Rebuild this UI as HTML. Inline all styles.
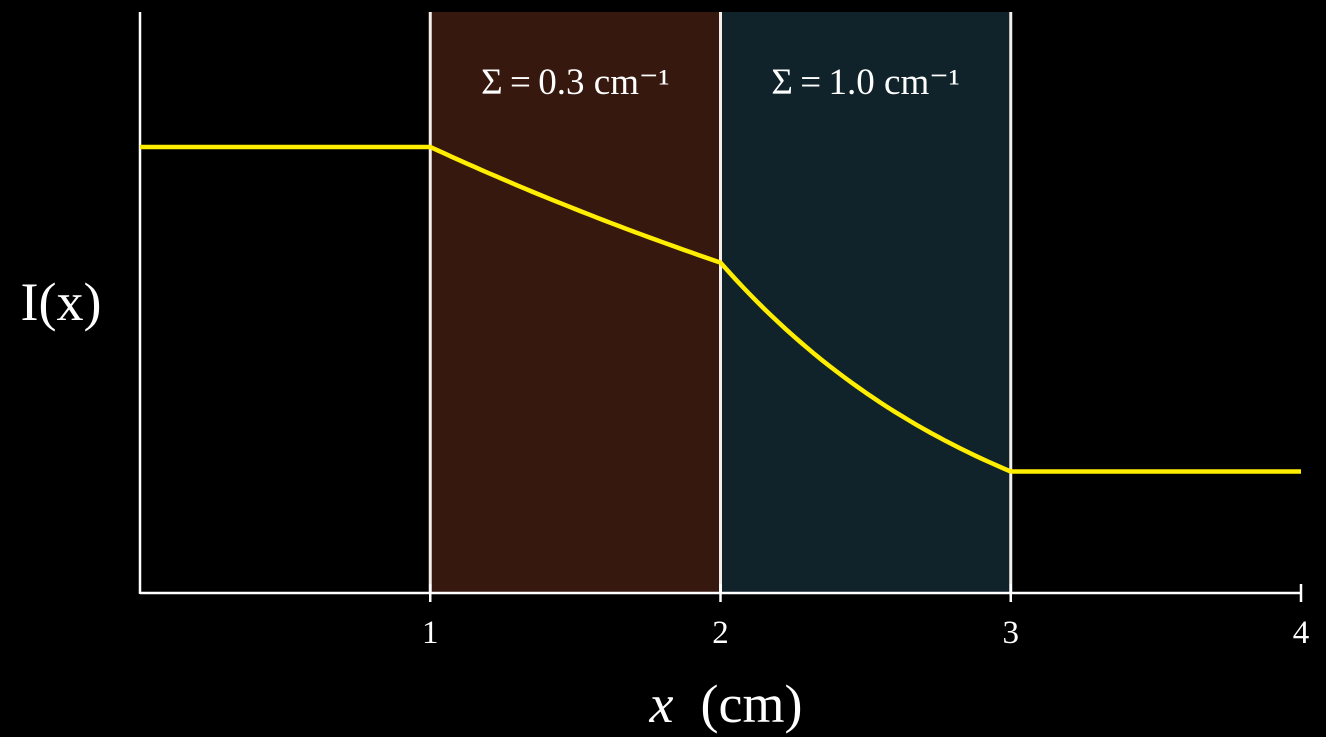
<!DOCTYPE html>
<html><head><meta charset="utf-8"><style>
html,body{margin:0;padding:0;background:#000;width:1326px;height:737px;overflow:hidden}
svg{display:block}
text{font-family:"Liberation Serif",serif;fill:#fff}
</style></head><body>
<svg id="chart" width="1326" height="737" viewBox="0 0 1326 737">
<g id="regions"></g>
<g id="axes"></g>
<g id="curve"></g>
<g id="labels"></g>
</svg>
<script>
const regionStarts = [1, 2];
const regionEnds = [2, 3];
const regionSigmas = [0.3, 1.0];
const regionLabels = ["Σ\u2009=\u20090.3 cm⁻¹", "Σ\u2009=\u20091.0 cm⁻¹"];
const regionFills = ["#37180f", "#10232a"];
const xTicks = [1, 2, 3, 4];
const xTickLabels = ["1", "2", "3", "4"];
const I0 = [1.0];
const xDomain = [0, 4];

const NS = "http://www.w3.org/2000/svg";
const X0 = 140, X1 = 1301, Y0 = 593, YTOP = 12;
const xs = v => X0 + (v - xDomain[0]) / (xDomain[1] - xDomain[0]) * (X1 - X0);
const ys = v => Y0 - v * 446;
function mk(tag, attrs, parent) { const e = document.createElementNS(NS, tag); for (const k in attrs) e.setAttribute(k, attrs[k]); parent.appendChild(e); return e; }

const gR = document.getElementById('regions'), gA = document.getElementById('axes'), gC = document.getElementById('curve'), gL = document.getElementById('labels');

regionStarts.forEach((s, i) => {
  const r = mk('rect', {x: xs(s), y: YTOP, width: xs(regionEnds[i]) - xs(s), height: Y0 - YTOP, fill: regionFills[i]}, gR);
  
  
  const t = mk('text', {x: (xs(s) + xs(regionEnds[i])) / 2, y: 94, 'font-size': 37, 'text-anchor': 'middle'}, gL);
  t.textContent = regionLabels[i];
  
  
});
const bounds = [...new Set([...regionStarts, ...regionEnds])];
bounds.forEach((b, i) => {
  const l = mk('line', {x1: xs(b), x2: xs(b), y1: YTOP, y2: Y0, stroke: '#f4eeea', 'stroke-width': 3}, gR);
  
  
});

const ya = mk('line', {x1: X0, x2: X0, y1: YTOP, y2: Y0 + 1, stroke: '#fff', 'stroke-width': 2.5}, gA);


const xa = mk('line', {x1: X0, x2: X1 + 1, y1: Y0, y2: Y0, stroke: '#fff', 'stroke-width': 2.5}, gA);


xTicks.forEach((v, i) => {
  const tk = mk('line', {x1: xs(v), x2: xs(v), y1: Y0 - 9, y2: Y0 + 9, stroke: '#fff', 'stroke-width': 2.5}, gA);
  
  
  const t = mk('text', {x: xs(v), y: 643, 'font-size': 33, 'text-anchor': 'middle'}, gA);
  t.textContent = xTickLabels[i];
  
  
});

const pts = [];
let I = I0[0];
pts.push([xDomain[0], I]);
pts.push([regionStarts[0], I]);
regionStarts.forEach((s, i) => {
  const e = regionEnds[i], n = 40;
  const Is = I;
  for (let k = 1; k <= n; k++) { const x = s + (e - s) * k / n; pts.push([x, Is * Math.exp(-regionSigmas[i] * (x - s))]); }
  I = Is * Math.exp(-regionSigmas[i] * (e - s));
});
pts.push([xDomain[1], I]);
const p = mk('polyline', {points: pts.map(q => xs(q[0]).toFixed(1) + ',' + ys(q[1]).toFixed(1)).join(' '), fill: 'none', stroke: '#ffee00', 'stroke-width': 4.5, 'stroke-linejoin': 'round'}, gC);



const yl = mk('text', {x: 61, y: 320, 'font-size': 54, 'text-anchor': 'middle'}, gL);
yl.textContent = 'I(x)';


const xl = mk('text', {x: 726, y: 722, 'font-size': 54, 'text-anchor': 'middle'}, gL);
xl.innerHTML = '<tspan font-style="italic">x</tspan>\u2002(cm)';


</script>
</body></html>
